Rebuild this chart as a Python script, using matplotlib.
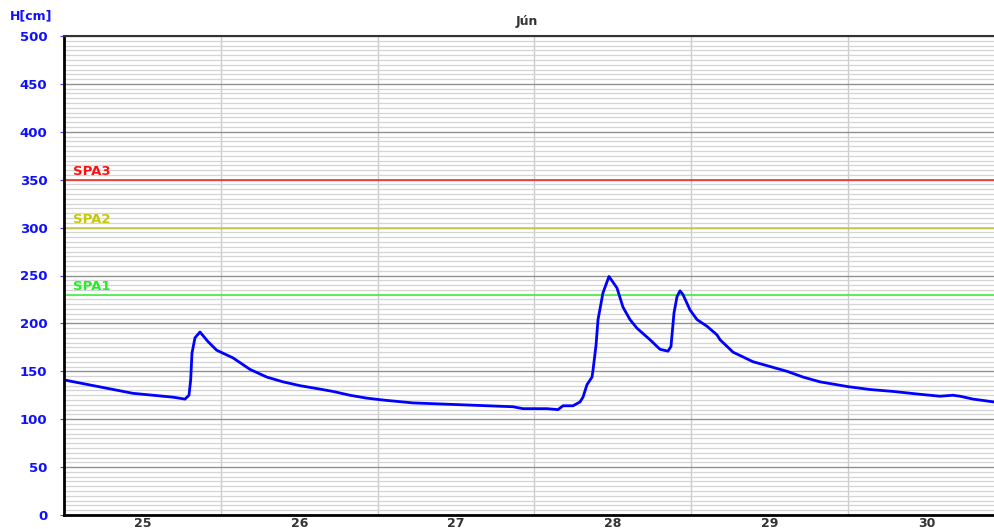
import matplotlib
matplotlib.use("Agg")
import matplotlib.pyplot as plt
from matplotlib.ticker import MultipleLocator

plt.rcParams['font.family'] = ['DejaVu Sans']

# water level [cm], hours from the start of the 25th
hours = [0.0, 10.56, 16.68, 18.52, 19.13, 19.39, 19.59, 20.05, 20.82, 22.04, 23.37, 25.87,
         28.47, 31.03, 33.52, 36.12, 38.68, 41.17, 43.77, 46.33, 48.83, 53.42, 61.07, 68.72,
         70.25, 73.93, 75.61, 76.38, 77.91, 78.98, 79.44, 80.05, 80.82, 80.97, 81.43, 81.74,
         82.5, 83.42, 84.64, 85.56, 86.63, 87.70, 89.69, 91.22, 92.45, 92.91, 93.37, 93.83,
         94.29, 94.75, 95.82, 96.89, 98.42, 99.95, 100.41, 102.40, 105.46, 108.06, 110.66,
         113.11, 115.71, 119.99, 123.36, 126.88, 131.02, 134.08, 136.07, 137.14, 139.13, 142.35]
level = [141, 127, 123, 121, 125, 141, 169, 185, 191, 181, 172, 164,
         152, 144, 139, 135, 132, 129, 125, 122, 120, 117, 115, 113,
         111, 111, 110, 114, 114, 118, 123, 136, 144, 151, 177, 204,
         232, 249, 237, 217, 204, 195, 183, 173, 171, 176, 211, 228,
         234, 230, 214, 204, 197, 188, 183, 170, 160, 155, 150,
         144, 139, 134, 131, 129, 126, 124, 125, 124, 121, 118]

days = ["25", "26", "27", "28", "29", "30"]
spa_names = ["SPA1", "SPA2", "SPA3"]
spa_levels = [230, 300, 350]
spa_line_colors = ["#44ee44", "#d0d040", "#ff3030"]
spa_text_colors = ["#22ee22", "#c8c800", "#ff1010"]

fig = plt.figure(figsize=(9.94, 5.29), dpi=100)
ax = fig.add_axes([64 / 994, 14 / 529, 930 / 994, 479 / 529])

ax.set_xlim(0, 142.35)
ax.set_ylim(0, 500)

ax.yaxis.set_major_locator(MultipleLocator(50))
ax.yaxis.set_minor_locator(MultipleLocator(5))
ax.grid(which='major', axis='y', color='#909090', lw=1.0)
ax.grid(which='minor', axis='y', color='#d4d4d4', lw=0.9)
for d in range(1, 6):
    ax.axvline(24 * d, color='#cccccc', lw=1.0, zorder=0.5)

ax.set_xticks([12 + 24 * i for i in range(len(days))])
ax.set_xticklabels(days)
ax.tick_params(axis='x', length=0, pad=1.5, labelsize=9, labelcolor='#333333')
ax.tick_params(axis='y', which='major', length=3, color='#4444ff', pad=9,
               labelsize=9.5, labelcolor='#1010ff')
ax.tick_params(axis='y', which='minor', length=0)
for lab in ax.get_xticklabels() + ax.get_yticklabels():
    lab.set_fontweight('bold')

for s in ['left', 'bottom']:
    ax.spines[s].set_linewidth(2)
    ax.spines[s].set_color('black')
ax.spines['top'].set_linewidth(1.5)
ax.spines['top'].set_color('#333333')
ax.spines['right'].set_visible(False)

for name, lv, lc, tc in zip(spa_names, spa_levels, spa_line_colors, spa_text_colors):
    ax.axhline(lv, color=lc, lw=1.2)
    ax.text(1.4, lv + 1.5, name, color=tc, fontsize=9.5, fontweight='bold', va='bottom')

ax.plot(hours, level, color='#0000ff', lw=2, solid_joinstyle='round')

fig.text(10 / 994, 1 - 16 / 529, "H[cm]", color='#1010ff', fontsize=9,
         fontweight='bold', va='center')
fig.text(527 / 994, 1 - 22 / 529, "Jún", color='#333333', fontsize=9,
         fontweight='bold', va='center', ha='center')

fig.savefig("out.png", dpi=100)
